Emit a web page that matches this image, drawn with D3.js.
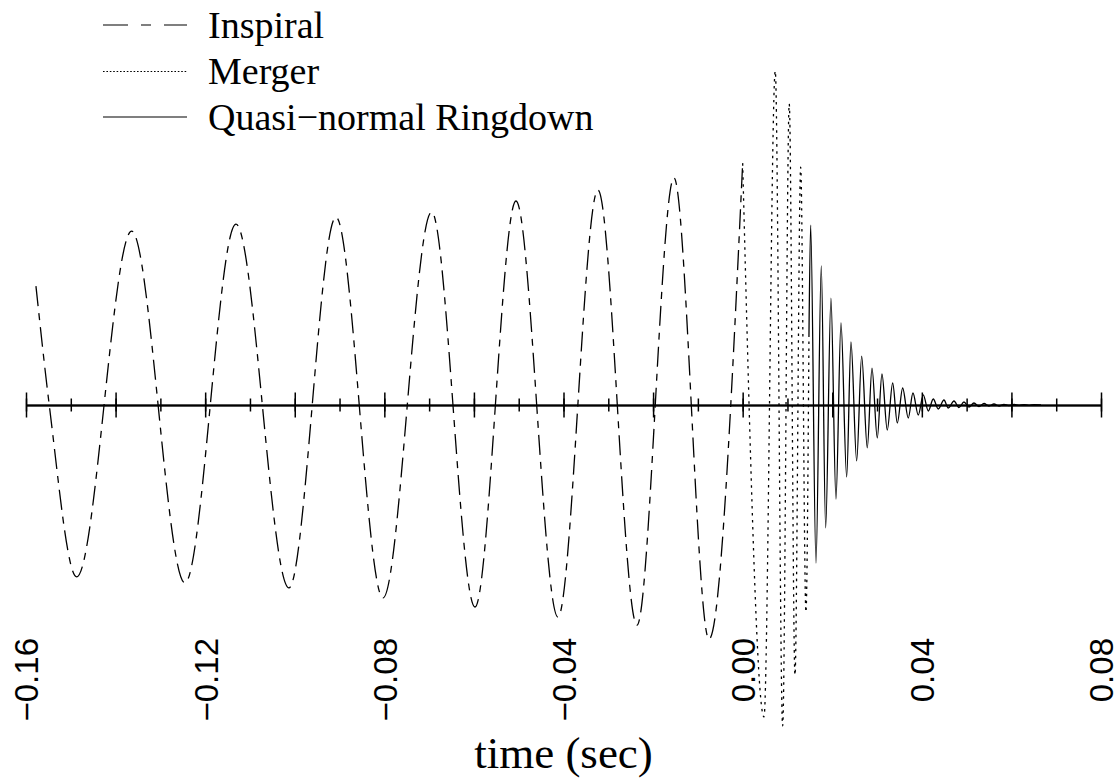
<!DOCTYPE html>
<html>
<head>
<meta charset="utf-8">
<script src="https://cdn.jsdelivr.net/npm/d3@7"></script>
<style>
  html, body { margin: 0; padding: 0; background: #fff; }
  svg { display: block; }
</style>
</head>
<body>
<svg id="chart" width="1115" height="780"></svg>
<script>
// ---------- data (time in seconds, strain in arbitrary units) ----------
const inspiralTime = [-0.15778, -0.15481, -0.14869, -0.13641, -0.12452, -0.11313, -0.10130,
  -0.09080, -0.08031, -0.06944, -0.05977, -0.05061, -0.04124, -0.03231, -0.02360,
  -0.01534, -0.00752, 0.00000];
const inspiralStrain = [0.355, 0.000, -0.513, 0.519, -0.531, 0.540, -0.546,
  0.561, -0.576, 0.576, -0.603, 0.609, -0.633, 0.642, -0.657,
  0.678, -0.699, 0.722];

const mergerTime = [0.00000, 0.00476, 0.00728, 0.00893, 0.01040, 0.01168, 0.01295, 0.01413, 0.01480];
const mergerStrain = [0.722, -0.931, 0.997, -0.958, 0.899, -0.806, 0.710, -0.618, 0.203];

const ringdownTime = [0.01480, 0.01518, 0.01637, 0.01755, 0.01853, 0.01971, 0.02083, 0.02195,
  0.02322, 0.02418, 0.02545, 0.02657, 0.02782, 0.02887, 0.03005, 0.03110, 0.03228, 0.03349,
  0.03452, 0.03572, 0.03697, 0.03802, 0.03920, 0.04032, 0.04144, 0.04255, 0.04367, 0.04494,
  0.04590, 0.04718, 0.04829, 0.04941, 0.05052, 0.05164, 0.05276, 0.05388, 0.05499, 0.05611,
  0.05723, 0.05834, 0.05946, 0.06058, 0.06170, 0.06282, 0.06394, 0.06506, 0.06660];
const ringdownStrain = [0.203, 0.537, -0.472, 0.415, -0.367, 0.319, -0.281, 0.245,
  -0.215, 0.188, -0.167, 0.146, -0.128, 0.110, -0.0985, 0.0925, -0.0746, 0.0657,
  -0.0537, 0.0507, -0.0388, 0.0358, -0.0299, 0.0300, -0.0179, 0.0179, -0.0119, 0.0149,
  -0.0090, 0.0119, -0.0075, 0.0090, -0.0060, 0.0060, -0.0045, 0.0045, -0.0030, 0.0030,
  -0.0030, 0.0020, -0.0015, 0.0015, -0.0012, 0.0012, -0.0010, 0.0010, 0.0000];

const minorTicks = [-0.16, -0.15, -0.14, -0.13, -0.12, -0.11, -0.10, -0.09, -0.08, -0.07,
  -0.06, -0.05, -0.04, -0.03, -0.02, -0.01, 0.00, 0.01, 0.02, 0.03, 0.04, 0.05, 0.06, 0.07, 0.08];
const majorTicks = [-0.16, -0.14, -0.12, -0.10, -0.08, -0.06, -0.04, -0.02, 0.00, 0.02, 0.04, 0.06, 0.08];
const labelTicks = [-0.16, -0.12, -0.08, -0.04, 0.00, 0.04, 0.08];
const tickLabels = ["\u22120.16", "\u22120.12", "\u22120.08", "\u22120.04", "0.00", "0.04", "0.08"];

const legendNames = ["Inspiral", "Merger", "Quasi\u2212normal Ringdown"];
const xLabel = "time (sec)";

// ---------- drawing ----------
const svg = d3.select("#chart");
svg.append("rect").attr("width", 1115).attr("height", 780).attr("fill", "#fff");

const x = d3.scaleLinear().domain([-0.16, 0.08]).range([26, 1101]);
const y = d3.scaleLinear().domain([-1, 1]).range([740, 70]);
const y0 = y(0);

// axis line with ticks on both sides
function tickAxis(axisFn, values, size) {
  const a = axisFn(x).tickValues(values).tickSizeInner(size).tickSizeOuter(0).tickFormat("");
  const g = svg.append("g").attr("transform", `translate(0,${y0})`).call(a);
  g.selectAll("line").attr("stroke", "#000").attr("stroke-width", 1.5);
  g.select(".domain").attr("stroke", "#000").attr("stroke-width", 1.6);
  return g;
}
tickAxis(d3.axisBottom, minorTicks, 6.5);
tickAxis(d3.axisTop, minorTicks, 6.5);
tickAxis(d3.axisBottom, majorTicks, 12.5);
tickAxis(d3.axisTop, majorTicks, 12.5);

// tick labels (rotated)
const labAxis = d3.axisBottom(x).tickValues(labelTicks).tickSize(0)
  .tickFormat((d, i) => tickLabels[i]);
const lg = svg.append("g").attr("transform", "translate(0,638)").call(labAxis);
lg.select(".domain").remove();
lg.selectAll("text")
  .attr("transform", "rotate(-90)")
  .attr("x", 0).attr("y", 0).attr("dy", "0.36em")
  .attr("text-anchor", "end")
  .attr("fill", "#000")
  .style("font-family", "'Liberation Sans', Arial, sans-serif")
  .style("font-size", "33px");

// x label
svg.append("text").attr("x", (x(-0.16) + x(0.08)) / 2).attr("y", 768)
  .attr("text-anchor", "middle")
  .style("font-family", "'Liberation Serif', 'Times New Roman', serif")
  .style("font-size", "45px").attr("fill", "#000")
  .text(xLabel);

// curves
function curve(T, H) {
  return d3.line().x((d, i) => x(T[i])).y((d, i) => y(H[i])).curve(d3.curveMonotoneX)(T);
}
const styles = [
  { dash: "20,7,7,7", legendDash: "25,13,10,13", width: 1.3 },
  { dash: "2.5,4.5", legendDash: "1.6,1.8", width: 1.3 },
  { dash: null, legendDash: null, width: 1.3 }
];
const series = [[inspiralTime, inspiralStrain], [mergerTime, mergerStrain], [ringdownTime, ringdownStrain]];
series.forEach((s, i) => {
  const p = svg.append("path").attr("d", curve(s[0], s[1]))
    .attr("fill", "none").attr("stroke", "#000").attr("stroke-width", styles[i].width)
    .attr("stroke-linejoin", "round");
  if (styles[i].dash) p.attr("stroke-dasharray", styles[i].dash);
});

// legend
const legendY = [25, 71.5, 117];
legendNames.forEach((name, i) => {
  const l = svg.append("line").attr("x1", 103).attr("x2", 187)
    .attr("y1", legendY[i]).attr("y2", legendY[i])
    .attr("stroke", "#000").attr("stroke-width", 1.2);
  if (styles[i].legendDash) l.attr("stroke-dasharray", styles[i].legendDash);
  svg.append("text").attr("x", 208).attr("y", legendY[i] + 12.5)
    .style("font-family", "'Liberation Serif', 'Times New Roman', serif")
    .style("font-size", "38px").attr("fill", "#000")
    .text(name);
});
</script>
</body>
</html>
